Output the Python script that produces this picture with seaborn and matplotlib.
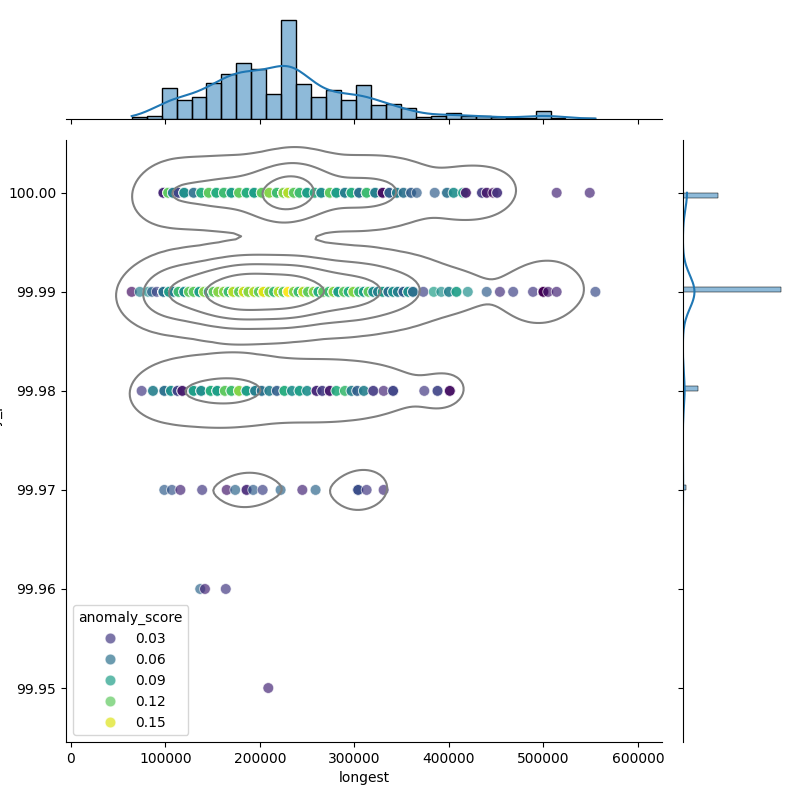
import numpy as np
import pandas as pd
import seaborn as sns
import matplotlib
matplotlib.use('Agg')
import matplotlib.pyplot as plt
from matplotlib import ticker

# Dots, one row per availability level.
# x in thousands, anomaly score, and how many records sit on that dot.
x_100 = [98, 103, 108, 114, 120, 130, 138, 146, 154, 162, 170, 178, 186, 194,
         202, 210, 218, 225, 230, 236, 242, 250, 258, 265, 274, 281, 290, 297,
         305, 313, 322, 330, 337, 345, 352, 360, 366, 385, 398, 405, 415, 418,
         435, 440, 447, 451, 514, 549]
s_100 = [0.02, 0.12, 0.07, 0.035, 0.08, 0.06, 0.10, 0.12, 0.10, 0.11, 0.09,
         0.12, 0.10, 0.09, 0.12, 0.13, 0.11, 0.13, 0.14, 0.12, 0.11, 0.09,
         0.10, 0.08, 0.12, 0.09, 0.07, 0.10, 0.06, 0.11, 0.07, 0.01, 0.05,
         0.07, 0.06, 0.05, 0.05, 0.05, 0.06, 0.08, 0.09, 0.015, 0.03, 0.015,
         0.01, 0.025, 0.02, 0.02]
n_100 = [4, 5, 4, 3, 4, 2, 3, 6, 6, 4, 5, 5, 5, 5, 5, 3, 4, 25, 25, 25, 5, 5,
         2, 4, 5, 5, 4, 4, 6, 6, 5, 4, 5, 4, 2, 2, 1, 1, 2, 2, 2, 2, 2, 2, 1,
         2, 1, 1]

x_9999 = [64.5, 73, 82, 86, 91, 98, 104, 109, 114, 120, 125, 130, 136, 141,
          146, 151, 156, 162, 167, 172, 178, 183, 188, 194, 199, 204, 210, 215,
          220, 225, 230, 236, 241, 246, 251, 257, 262, 267, 273, 278, 283, 289,
          294, 299, 305, 310, 315, 320, 325, 330, 336, 341, 346, 352, 357, 362,
          373, 384, 392, 400, 408, 420, 440, 454, 468, 489, 500, 505, 514, 555]
s_9999 = [0.01, 0.07, 0.08, 0.05, 0.035, 0.06, 0.09, 0.07, 0.11, 0.08, 0.12,
          0.12, 0.09, 0.13, 0.10, 0.12, 0.13, 0.13, 0.11, 0.14, 0.12, 0.145,
          0.13, 0.14, 0.12, 0.15, 0.13, 0.11, 0.14, 0.12, 0.158, 0.13, 0.11,
          0.14, 0.12, 0.13, 0.10, 0.12, 0.11, 0.13, 0.09, 0.12, 0.10, 0.13,
          0.11, 0.09, 0.12, 0.08, 0.07, 0.09, 0.06, 0.08, 0.07, 0.05, 0.08,
          0.06, 0.035, 0.09, 0.08, 0.07, 0.09, 0.08, 0.05, 0.025, 0.035, 0.03,
          0.003, 0.015, 0.02, 0.04]
n_9999 = [1, 1, 1, 1, 1, 10, 11, 11, 6, 6, 7, 7, 7, 7, 14, 13, 13, 19, 19, 19,
          24, 25, 24, 22, 22, 22, 10, 10, 9, 29, 30, 29, 15, 15, 14, 9, 9, 8,
          12, 11, 12, 7, 7, 7, 12, 12, 11, 4, 3, 3, 5, 4, 4, 5, 5, 4, 1, 1, 1,
          2, 2, 1, 1, 1, 1, 1, 13, 1, 1, 1]

x_9998 = [75, 87, 99, 106, 113, 118, 130, 138, 148, 155, 163, 170, 178, 186,
          195, 202, 210, 218, 226, 234, 242, 250, 260, 266, 274, 281, 290, 297,
          303, 310, 320, 331, 341, 374, 388, 401]
s_9998 = [0.03, 0.07, 0.06, 0.08, 0.035, 0.015, 0.09, 0.08, 0.10, 0.09, 0.12,
          0.11, 0.13, 0.09, 0.07, 0.06, 0.07, 0.05, 0.10, 0.08, 0.09, 0.08,
          0.02, 0.03, 0.015, 0.10, 0.11, 0.07, 0.05, 0.07, 0.03, 0.02, 0.035,
          0.03, 0.035, 0.01]
n_9998 = [1, 2, 3, 3, 3, 3, 5, 4, 5, 5, 4, 4, 5, 5, 4, 3, 2, 2, 3, 2, 3, 2, 3,
          2, 3, 2, 2, 2, 2, 2, 2, 1, 3, 1, 2, 3]

x_9997 = [99, 107, 116, 139, 165, 174, 186, 193, 203, 222, 245, 259, 304, 313,
          331]
s_9997 = [0.05, 0.045, 0.02, 0.03, 0.015, 0.055, 0.02, 0.05, 0.035, 0.055,
          0.02, 0.055, 0.04, 0.03, 0.025]
n_9997 = [1, 1, 1, 1, 1, 1, 2, 1, 1, 1, 1, 1, 5, 1, 1]

x_9996 = [137, 142, 164]
s_9996 = [0.055, 0.02, 0.03]
n_9996 = [1, 1, 1]

x_9995 = [209]
s_9995 = [0.02]
n_9995 = [1]

rows = [(100.00, x_100, s_100, n_100),
        (99.99, x_9999, s_9999, n_9999),
        (99.98, x_9998, s_9998, n_9998),
        (99.97, x_9997, s_9997, n_9997),
        (99.96, x_9996, s_9996, n_9996),
        (99.95, x_9995, s_9995, n_9995)]

frames = []
for level, xs, ss, ns in rows:
    frames.append(pd.DataFrame({
        'longest': np.repeat(np.array(xs) * 1000.0, ns),
        'availability_pct': level,
        'anomaly_score': np.repeat(ss, ns)}))
df = pd.concat(frames, ignore_index=True)

# Joint grid: scatter + density contours, histograms on the margins
g = sns.JointGrid(data=df, x='longest', y='availability_pct', height=8,
                  ratio=5, space=0.2)
sns.scatterplot(data=df, x='longest', y='availability_pct',
                hue='anomaly_score', palette='viridis', alpha=0.7, s=60,
                ax=g.ax_joint)
sns.kdeplot(data=df, x='longest', y='availability_pct', color='gray',
            levels=5, bw_adjust=0.85, linewidths=1.5, ax=g.ax_joint)
sns.histplot(data=df, x='longest', bins=31, kde=True, ax=g.ax_marg_x)
sns.histplot(data=df, y='availability_pct', bins=100, kde=True,
             ax=g.ax_marg_y)

g.ax_marg_x.set_xlabel('')
g.ax_marg_x.set_ylabel('')
g.ax_marg_y.set_xlabel('')
g.ax_marg_y.set_ylabel('')
g.ax_marg_x.tick_params(axis='x', labelbottom=False)
g.ax_marg_x.tick_params(axis='y', left=False, labelleft=False)
g.ax_marg_y.tick_params(axis='y', labelleft=False)
g.ax_marg_y.tick_params(axis='x', bottom=False, labelbottom=False)

g.ax_joint.set_xlim(-5000, 625700)
g.ax_joint.set_ylim(99.94455, 100.00535)
g.ax_joint.yaxis.set_major_formatter(ticker.FormatStrFormatter('%.2f'))
g.ax_joint.set_xlabel('longest')
g.ax_joint.set_ylabel('availability_pct')
sns.move_legend(g.ax_joint, 'lower left')

g.figure.subplots_adjust(left=0.0825, right=0.982, bottom=0.0725, top=0.981,
                         wspace=0.2, hspace=0.2)
g.figure.savefig('out.png', dpi=100)
